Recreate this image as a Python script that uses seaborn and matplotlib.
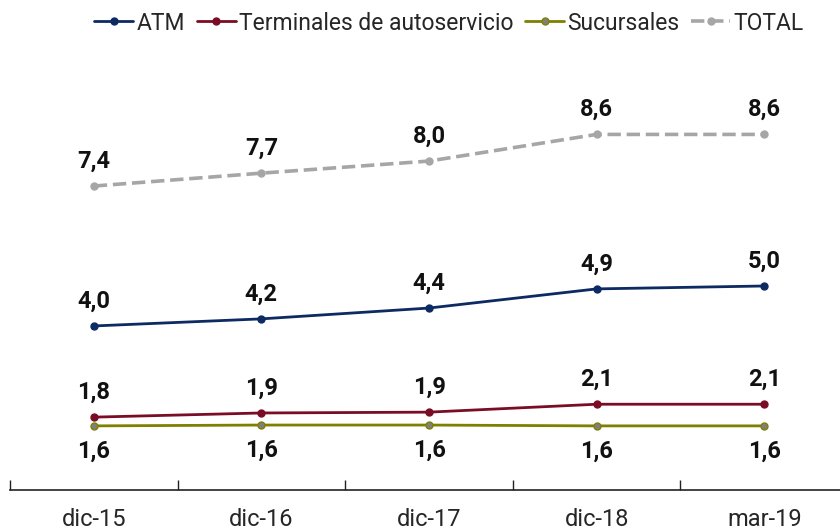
import pandas as pd
import matplotlib.pyplot as plt
import seaborn as sns

# Data
periods = ["dic-15", "dic-16", "dic-17", "dic-18", "mar-19"]
atm = [4.0, 4.17, 4.43, 4.89, 4.96]
terminales = [1.81, 1.91, 1.93, 2.12, 2.12]
sucursales = [1.6, 1.62, 1.62, 1.6, 1.6]
total = [7.36, 7.67, 7.96, 8.6, 8.6]

series_names = ["ATM", "Terminales de autoservicio", "Sucursales", "TOTAL"]
series_values = [atm, terminales, sucursales, total]

sns.set_style("white")
plt.rcParams["font.family"] = ["Roboto", "DejaVu Sans"]

fig = plt.figure(figsize=(8.4, 5.31), dpi=100)
ax = fig.add_axes([10 / 840, 41 / 531, 838 / 840, 458 / 531])

styles = {
    "ATM": dict(color="#0d2a63", mfc="#0d2a63", mec="#0d2a63", ls="-"),
    "Terminales de autoservicio": dict(color="#7a0d25", mfc="#7a0d25", mec="#7a0d25", ls="-"),
    "Sucursales": dict(color="#7f7f00", mfc="#7f7f7f", mec="#7f7f00", ls="-"),
    "TOTAL": dict(color="#a6a6a6", mfc="#a6a6a6", mec="#a6a6a6", ls="--"),
}

x = list(range(len(periods)))
for name, vals in zip(series_names, series_values):
    st = styles[name]
    df = pd.DataFrame({"x": x, "y": vals})
    sns.lineplot(data=df, x="x", y="y", ax=ax, color=st["color"], linestyle=st["ls"],
                 linewidth=2.0 if name != "TOTAL" else 2.6, marker="o", markersize=5,
                 markerfacecolor=st["mfc"], markeredgecolor=st["mec"], markeredgewidth=1.0,
                 label=name)
    offset = -18 if name == "Sucursales" else 18
    for xi, v in zip(x, vals):
        ax.annotate(f"{v:.1f}".replace(".", ","), (xi, v), xytext=(0, offset),
                    textcoords="offset points", ha="center", va="center",
                    fontsize=17, fontweight="bold", color="#111111")

ax.set_xlim(-0.5, 4.5)
ax.set_ylim(0.06, 11.06)
ax.set_xlabel("")
ax.set_ylabel("")
ax.set_yticks([])

# category boundaries as ticks, labels at centres
ax.set_xticks([i - 0.5 for i in range(len(periods) + 1)])
ax.set_xticklabels([])
ax.set_xticks(x, minor=True)
ax.set_xticklabels(periods, minor=True, fontsize=17)
ax.tick_params(axis="x", which="major", direction="in", length=7, width=1, color="#222222", bottom=True)
ax.tick_params(axis="x", which="minor", length=0, pad=13)

for s in ["top", "right", "left"]:
    ax.spines[s].set_visible(False)
ax.spines["bottom"].set_color("#222222")
ax.spines["bottom"].set_linewidth(1.2)

ax.get_legend().remove()
handles, labels = ax.get_legend_handles_labels()
fig.legend(handles, labels, loc="center", bbox_to_anchor=(449 / 840, 1 - 23 / 531), ncol=4,
           frameon=False, fontsize=16.5, handlelength=1.7, handletextpad=0.15,
           columnspacing=0.5, borderaxespad=0)

plt.savefig("out.png", dpi=100)
